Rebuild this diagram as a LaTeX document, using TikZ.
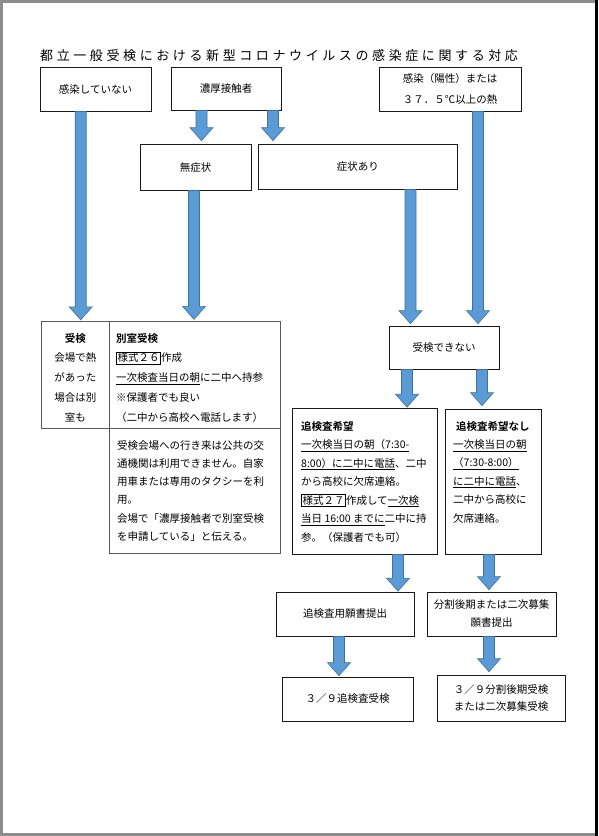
\documentclass[tikz,border=0pt]{standalone}
\usepackage{fontspec}
\setmainfont{Noto Sans CJK JP}[BoldFont={Noto Sans CJK JP Bold}]
\usetikzlibrary{calc}
\definecolor{arrowfill}{HTML}{5B9BD5}
\definecolor{arrowline}{HTML}{41719C}
\definecolor{pageedge}{HTML}{8C8C8C}
\setlength\fboxsep{0.8pt}
\setlength\fboxrule{0.6pt}
\def\spacedchars#1{\ifx#1\relax\else#1\hspace{3.6pt}\expandafter\spacedchars\fi}
% block arrow: x position, from node, to node, gap above the target
\newcommand\flowarrow[4]{%
  \draw[blockarrow] let \p1=(#2.south), \p2=(#3.north) in
    ({#1pt-5.5pt},\y1) -- ({#1pt+5.5pt},\y1) -- ({#1pt+5.5pt},{\y2+#4pt+13pt})
    -- ({#1pt+11.5pt},{\y2+#4pt+13pt}) -- (#1pt,{\y2+#4pt})
    -- ({#1pt-11.5pt},{\y2+#4pt+13pt}) -- ({#1pt-5.5pt},{\y2+#4pt+13pt}) -- cycle;}
\tikzset{
  box/.style={draw=black!90, line width=0.7pt, inner sep=0pt, align=center,
    font=\fontsize{10.5}{13}\selectfont},
  cellbox/.style={draw=black!65, line width=0.7pt, inner sep=0pt},
  txt/.style={inner sep=0pt, anchor=north west, align=left},
  blockarrow/.style={fill=arrowfill, draw=arrowline, line width=0.6pt, line join=miter}
}
\begin{document}
\begin{tikzpicture}[x=1pt,y=-1pt]
\fill[pageedge] (0,0) rectangle (598,836);
\fill[white] (3,2.5) rectangle (595,833);
\fill[black] (595,0) rectangle (598,836);
\useasboundingbox (0,0) rectangle (598,836);

\node[anchor=west, inner sep=0pt, font=\fontsize{13}{13}\selectfont] (title) at (40,55.5)
  {\spacedchars 都立一般受検における新型コロナウイルスの感染症に関する対応\relax};

\node[box, minimum width=111pt, minimum height=44pt] (A) at (95.5,89) {感染していない};
\node[box, minimum width=110pt, minimum height=43pt] (B) at (226,88.5) {濃厚接触者};
\node[box, minimum width=142pt, minimum height=44pt, font=\fontsize{10.5}{21}\selectfont] (C) at (450,89)
  {感染（陽性）または\\３７．５℃以上の熱};
\node[box, minimum width=111pt, minimum height=45.5pt] (D) at (195.5,167.25) {無症状};
\node[box, minimum width=198.4pt, minimum height=44.5pt] (E) at (357.8,166.75) {症状あり};

% table
\node[cellbox, minimum width=67.3pt, minimum height=107pt] (T1) at (75.35,375.2) {};
\node[cellbox, minimum width=171pt, minimum height=107pt] (T2) at (194.5,375.2) {};
\node[cellbox, minimum width=171pt, minimum height=124.3pt] (T3) at (194.5,490.85) {};
\node[inner sep=0pt, anchor=north, align=center, font=\fontsize{10.5}{19.75}\selectfont] (T1text) at (75.35,333)
  {\textbf{受検}\\会場で熱\\があった\\場合は別\\室も};
\node[txt, font=\fontsize{10.5}{19.75}\selectfont] (T2text) at (116,333)
  {\textbf{別室受検}\\\fbox{様式２６}作成\\\underline{一次検査当日の朝}に二中へ持参\\※保護者でも良い\\（二中から高校へ電話します）};
\node[txt, font=\fontsize{10.5}{18.3}\selectfont] (T3text) at (117,440)
  {受検会場への行き来は公共の交\\通機関は利用できません。自家\\用車または専用のタクシーを利\\用。\\会場で「濃厚接触者で別室受検\\を申請している」と伝える。};

\node[box, minimum width=110pt, minimum height=43pt] (G) at (444,347.5) {受検できない};

\node[box, minimum width=145pt, minimum height=146pt] (H) at (364.5,481) {};
\node[txt, font=\fontsize{10.5}{18.5}\selectfont] (Htext) at (301,421)
  {\textbf{追検査希望}\\\underline{一次検当日の朝（7:30-}\\\underline{8:00）に二中に電話}、二中\\から高校に欠席連絡。\\\fbox{様式２７}作成して\underline{一次検}\\\underline{当日 16:00 までに}二中に持\\参。（保護者でも可）};

\node[box, minimum width=96pt, minimum height=145pt] (I) at (493,481.5) {};
\node[txt, font=\fontsize{10.5}{18.4}\selectfont] (Itext) at (453,421)
  {\hspace*{3pt}\textbf{追検査希望なし}\\\underline{一次検当日の朝}\\\underline{（7:30-8:00）}\\\underline{に二中に電話}、\\二中から高校に\\欠席連絡。};

\node[box, minimum width=138pt, minimum height=44pt] (J) at (345,614) {追検査用願書提出};
\node[box, minimum width=129pt, minimum height=44pt, font=\fontsize{10.5}{18}\selectfont] (K) at (491.5,614)
  {分割後期または二次募集\\願書提出};
\node[box, minimum width=131pt, minimum height=44pt] (L) at (347.5,699) {３／９追検査受検};
\node[box, minimum width=128pt, minimum height=46pt, font=\fontsize{10.5}{17}\selectfont] (M) at (501,698)
  {３／９分割後期受検\\または二次募集受検};

\flowarrow{80.7}{A}{T1}{1.5}
\flowarrow{201.5}{B}{D}{3.5}
\flowarrow{273}{B}{E}{3.5}
\flowarrow{194}{D}{T2}{2}
\flowarrow{410.5}{E}{G}{2}
\flowarrow{478}{C}{G}{2}
\flowarrow{407}{G}{H}{0.5}
\flowarrow{482}{G}{I}{3}
\flowarrow{398}{H}{J}{0.5}
\flowarrow{489}{I}{K}{2}
\flowarrow{339}{J}{L}{1}
\flowarrow{489}{K}{M}{3}
\end{tikzpicture}
\end{document}
